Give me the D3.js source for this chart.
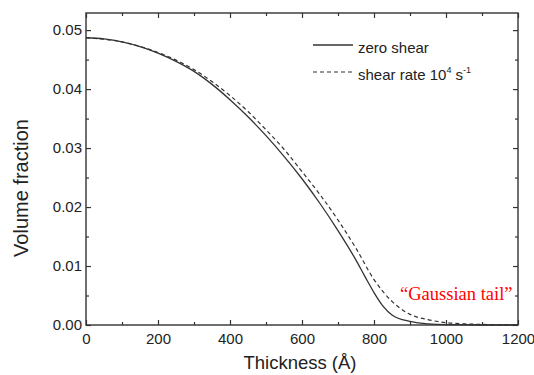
<!DOCTYPE html>
<html>
<head>
<meta charset="utf-8">
<script src="https://cdn.jsdelivr.net/npm/d3@7"></script>
<style>
  body { margin: 0; background: #fff; }
  svg { display: block; font-family: "Liberation Sans", Arial, sans-serif; }
</style>
</head>
<body>
<div id="chart"></div>
<script>
// values
const thickness0 = [0, 50, 100, 150, 200, 250, 300, 350, 400, 450, 500, 550, 600, 650, 700, 750, 775, 800, 825, 850, 900, 950, 1000, 1100, 1200];
const zeroShear  = [0.0487, 0.0485, 0.0480, 0.0472, 0.0461, 0.0447, 0.0430, 0.0408, 0.0382, 0.0353, 0.0321, 0.0286, 0.0248, 0.0206, 0.0160, 0.0110, 0.0082, 0.0055, 0.0032, 0.0017, 0.0006, 0.0002, 0.00005, 0, 0];

const thickness1 = [0, 100, 200, 300, 400, 450, 500, 550, 600, 650, 700, 750, 800, 850, 900, 950, 1000, 1050, 1100, 1200];
const shearRate  = [0.0487, 0.0480, 0.0462, 0.0433, 0.0389, 0.0362, 0.0331, 0.0298, 0.0260, 0.0221, 0.0178, 0.0130, 0.0077, 0.0040, 0.0018, 0.0009, 0.0004, 0.0002, 0.0001, 0];

const xTicks = [0, 200, 400, 600, 800, 1000, 1200];
const xMinor = [100, 300, 500, 700, 900, 1100];
const yTicks = [0, 0.01, 0.02, 0.03, 0.04, 0.05];
const yMinor = [0.005, 0.015, 0.025, 0.035, 0.045];

const W = 534, H = 375;
const margin = {top: 13, right: 16, bottom: 50, left: 86};
const width = W - margin.left - margin.right;
const height = H - margin.top - margin.bottom;

const svg = d3.select('#chart').append('svg')
  .attr('width', W)
  .attr('height', H);

const g = svg.append('g')
  .attr('transform', `translate(${margin.left},${margin.top})`);

const x = d3.scaleLinear().domain([0, 1200]).range([0, width]);
const y = d3.scaleLinear().domain([0, 0.0529]).range([height, 0]);

const axisColor = '#333';

// ticks, pointing inward, on all four sides
function ticks(axis, vals, size) {
  return axis.tickValues(vals).tickSize(-size).tickFormat('');
}
g.append('g').attr('transform', `translate(0,${height})`)
  .call(d3.axisBottom(x).tickValues(xTicks).tickSize(-5).tickPadding(8).tickFormat(d3.format('d')));
g.append('g').attr('transform', `translate(0,${height})`).call(ticks(d3.axisBottom(x), xMinor, 3));
g.append('g').call(ticks(d3.axisTop(x), xTicks, 5));
g.append('g').call(ticks(d3.axisTop(x), xMinor, 3));

g.append('g')
  .call(d3.axisLeft(y).tickValues(yTicks).tickSize(-5).tickPadding(4).tickFormat(d3.format('.2f')));
g.append('g').call(ticks(d3.axisLeft(y), yMinor, 3));
g.append('g').attr('transform', `translate(${width},0)`).call(ticks(d3.axisRight(y), yTicks, 5));
g.append('g').attr('transform', `translate(${width},0)`).call(ticks(d3.axisRight(y), yMinor, 3));

g.selectAll('.domain').remove();
g.selectAll('.tick line').attr('stroke', axisColor).attr('stroke-width', 1.2);
g.selectAll('.tick text').attr('fill', '#222').style('font-size', '15px');

// frame
g.append('rect')
  .attr('width', width).attr('height', height)
  .attr('fill', 'none').attr('stroke', axisColor).attr('stroke-width', 1.4);

// curves
const line = d3.line().curve(d3.curveMonotoneX);
const zeroPts = thickness0.map((t, i) => [x(t), y(zeroShear[i])]);
const shearPts = thickness1.map((t, i) => [x(t), y(shearRate[i])]);

g.append('path').attr('d', line(shearPts))
  .attr('fill', 'none').attr('stroke', '#333').attr('stroke-width', 1.2)
  .attr('stroke-dasharray', '4,3');
g.append('path').attr('d', line(zeroPts))
  .attr('fill', 'none').attr('stroke', '#333').attr('stroke-width', 1.3);

// legend
const legend = svg.append('g').attr('transform', 'translate(313,45)');
legend.append('line').attr('x1', 0).attr('x2', 40).attr('y1', 0).attr('y2', 0)
  .attr('stroke', '#333').attr('stroke-width', 1.3);
legend.append('text').attr('x', 45).attr('y', 8).style('font-size', '15px').attr('fill', '#222')
  .text('zero shear');
legend.append('line').attr('x1', 0).attr('x2', 40).attr('y1', 27).attr('y2', 27)
  .attr('stroke', '#333').attr('stroke-width', 1.2).attr('stroke-dasharray', '4,3');
const t2 = legend.append('text').attr('x', 45).attr('y', 35).style('font-size', '15px').attr('fill', '#222');
t2.append('tspan').text('shear rate 10');
t2.append('tspan').attr('dy', -7).style('font-size', '9px').text('4');
t2.append('tspan').attr('dy', 7).text(' s');
t2.append('tspan').attr('dy', -7).style('font-size', '9px').text('-1');

// annotation
svg.append('text')
  .attr('x', 400).attr('y', 300)
  .attr('fill', '#ff0000')
  .style('font-family', '"Liberation Serif", "Times New Roman", serif')
  .style('font-size', '18.5px')
  .text('\u201CGaussian tail\u201D');

// axis titles
svg.append('text')
  .attr('x', 300).attr('y', 369)
  .attr('text-anchor', 'middle').style('font-size', '18.5px').attr('fill', '#222')
  .text('Thickness (\u00C5)');
svg.append('text')
  .attr('transform', 'translate(28,188) rotate(-90)')
  .attr('text-anchor', 'middle').style('font-size', '20px').attr('fill', '#222')
  .text('Volume fraction');
</script>
</body>
</html>
